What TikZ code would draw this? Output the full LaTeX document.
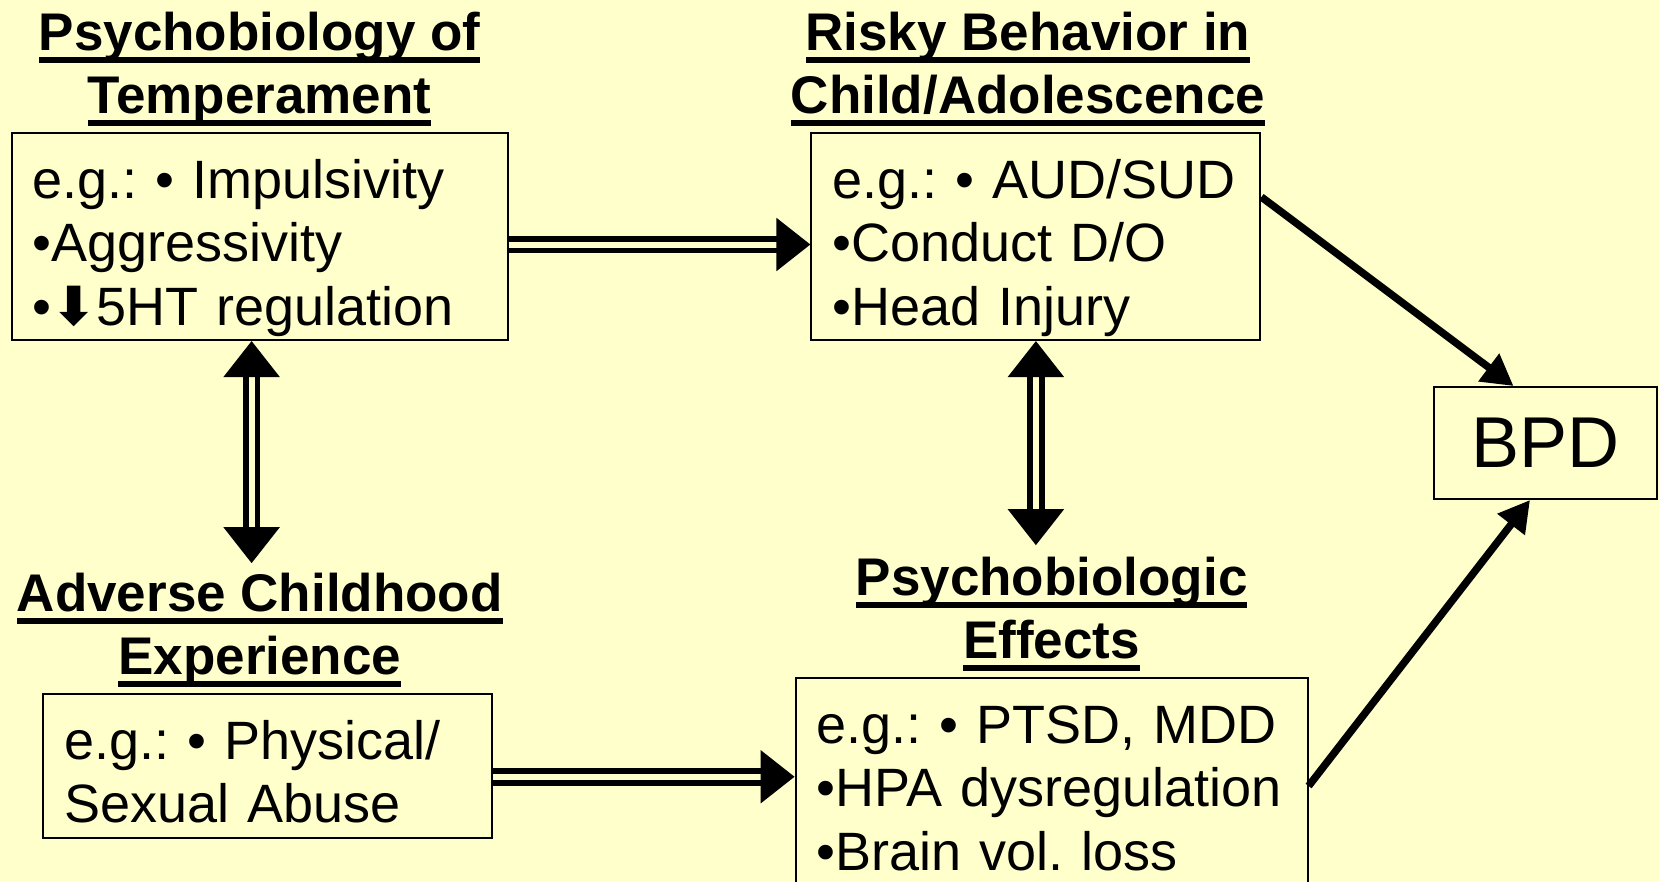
\documentclass[tikz,border=0pt]{standalone}
\usepackage{fontspec}
\setmainfont{Liberation Sans}
\newfontfamily\arrowfont{DejaVu Sans}
\usetikzlibrary{arrows.meta,positioning}

\definecolor{slidebg}{RGB}{255,255,204}
\frenchspacing

% room above the first line and below the last line of a box
\newcommand{\boxtop}{\rule{0pt}{65pt}}
\newcommand{\boxbot}{\rule[-15pt]{0pt}{15pt}}
\newcommand{\dnarrow}{{\arrowfont\bfseries ⬇}}
% thick underline of a heading line
\newsavebox{\ulinebox}
\newcommand{\uln}[1]{\sbox{\ulinebox}{#1}\rlap{\rule[-12pt]{\wd\ulinebox}{5.5pt}}\usebox{\ulinebox}}

\tikzset{
  box/.style={draw, line width=2pt, anchor=north west, inner xsep=21pt,
    inner ysep=0pt, align=left, font=\fontsize{54}{63.5}\selectfont},
  heading/.style={inner sep=0pt, align=center,
    font=\fontsize{53}{63}\selectfont\bfseries},
  dblto/.style={double=slidebg, double distance=6pt, line width=5.8pt,
    -{Triangle[length=34pt,width=52pt]}},
  dblboth/.style={double=slidebg, double distance=6pt, line width=5.8pt,
    <->, >={Triangle[length=36pt,width=55pt]}},
  fatarrow/.style={line width=7.5pt, -{Triangle[length=31pt,width=33pt]}},
}

\begin{document}
\begin{tikzpicture}[x=1pt,y=1pt]
  \useasboundingbox (0,0) rectangle (1659,-881);
  \fill[slidebg] (0,0) rectangle (1659,-881);

  % top row
  \node[box, text width=454pt] (temper) at (10.6,-132)
    {\boxtop e.g.: • Impulsivity\\•Aggressivity\\•\dnarrow5HT regulation\boxbot};
  \node[heading, above=6pt of temper] (temptitle)
    {\uln{Psychobiology of}\\\uln{Temperament}};
  \node[box, text width=407pt] (risky) at (810.4,-132)
    {\boxtop e.g.: • AUD/SUD\\•Conduct D/O\\•Head Injury\boxbot};
  \node[heading, above=6pt of risky, xshift=-8pt] (riskytitle)
    {\uln{Risky Behavior in}\\\uln{Child/Adolescence}};
  % bottom row
  \node[box, text width=407pt] (advbox) at (42.3,-693)
    {\boxtop e.g.: • Physical/\\Sexual Abuse\boxbot};
  \node[heading, above=6pt of advbox, xshift=-8pt] (advtitle)
    {\uln{Adverse Childhood}\\\uln{Experience}};
  \node[box, text width=470pt] (effbox) at (794.6,-677)
    {\boxtop e.g.: • PTSD, MDD\\•HPA dysregulation\\•Brain vol. loss\boxbot};
  \node[heading, above=6pt of effbox] (efftitle)
    {\uln{Psychobiologic}\\\uln{Effects}};
  % outcome
  \node[draw, line width=2pt, minimum width=223pt, minimum height=112pt,
    font=\fontsize{72}{86}\selectfont] (bpd) at (1545.5,-443) {BPD};

  % links
  \draw[dblto] ([yshift=-8pt]temper.east) -- ([yshift=-8pt]temper.east -| risky.west);
  \draw[dblto] ([yshift=-11pt]advbox.east) -- ([yshift=-11pt]advbox.east -| effbox.west);
  \draw[dblboth] ([xshift=-8pt]temper.south) -- ([xshift=-8pt,yshift=10pt]temper.south |- advtitle.north);
  \draw[dblboth] (risky.south) -- ([yshift=12pt]risky.south |- efftitle.north);
  \draw[fatarrow] ([yshift=39.5pt]risky.east) -- ([xshift=-32pt]bpd.north);
  \draw[fatarrow] ([yshift=-4.5pt]effbox.east) -- ([xshift=-15.5pt]bpd.south);
\end{tikzpicture}
\end{document}
